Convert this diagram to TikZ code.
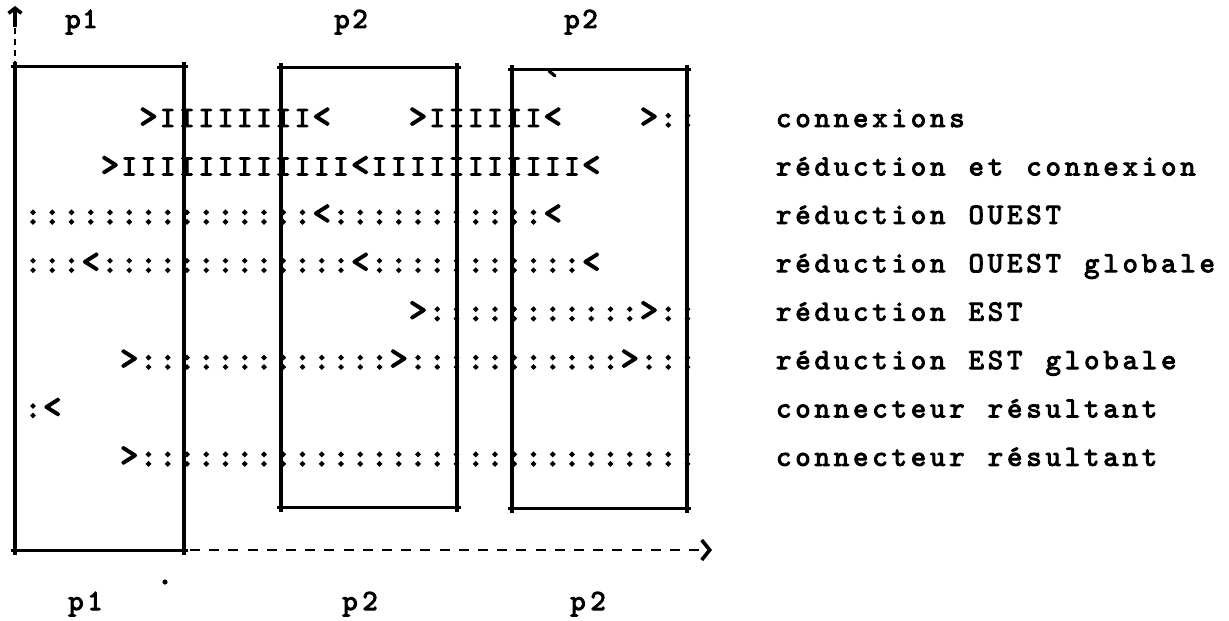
\documentclass[tikz,border=0pt]{standalone}
\usepackage{fontspec}
\newfontfamily\twfont{lmmono10-regular}[Extension=.otf, FakeBold=3.4]
\newfontfamily\twheavy{lmmono10-regular}[Extension=.otf, FakeBold=4.5]
\usetikzlibrary{arrows.meta}
\tikzset{
  glyph/.style={font=\twfont\fontsize{14.6}{14}\selectfont, anchor=base, inner sep=0pt, outer sep=0pt},
  chevron/.style={font=\twheavy\fontsize{17}{17}\selectfont},
  colon/.style={font=\twheavy\fontsize{15.5}{15}\selectfont},
  twextra/.style={},
  vline/.style={line width=2.1pt},
  hline/.style={line width=1.5pt},
  axisline/.style={line width=1.4pt, dash pattern=on 5pt off 4.6pt},
}
\ExplSyntaxOn
\fp_new:N \l_tw_col_fp
\int_new:N \l_tw_idx_int
\NewDocumentCommand \typerow { m m m m }
  {
    \fp_set:Nn \l_tw_col_fp { #2 }
    \int_zero:N \l_tw_idx_int
    \tl_map_inline:nn { #4 }
      {
        \int_incr:N \l_tw_idx_int
        \str_if_eq:nnF { ##1 } { . }
          {
            \str_case:nnF { ##1 }
              {
                { < } { \tikzset { twextra/.style = { chevron } } }
                { > } { \tikzset { twextra/.style = { chevron } } }
                { : } { \tikzset { twextra/.style = { colon } } }
              }
              { \tikzset { twextra/.style = { } } }
            \node [ glyph , twextra , name = #1 - \int_use:N \l_tw_idx_int ]
              at ( \fp_eval:n { 33 + 19.25 * \l_tw_col_fp } , #3 ) { ##1 } ;
          }
        \fp_add:Nn \l_tw_col_fp { 1 }
      }
  }
\ExplSyntaxOff
\begin{document}
\begin{tikzpicture}[x=0.5pt, y=-0.5pt]
\fill[white] (0,0) rectangle (1229,620);
\path[use as bounding box] (0,0) rectangle (1229,620);

% typed rows (columns 0..34)
\typerow{ra}{0}{127}{......>IIIIIIII<....>IIIIII<....>::}
\typerow{rb}{0}{175.4}{....>IIIIIIIIIIII<IIIIIIIIIII<}
\typerow{rc}{0}{223.8}{:::::::::::::::<:::::::::::<}
\typerow{rd}{0}{272.2}{:::<:::::::::::::<:::::::::::<}
\typerow{re}{0}{320.6}{....................>:::::::::::>::}
\typerow{rf}{0}{369}{.....>:::::::::::::>:::::::::::>:::}
\typerow{rg}{0}{417.4}{:<}
\typerow{rh}{0}{465.8}{.....>:::::::::::::::::::::::::::::}

% labels on the right
\typerow{la}{39}{127}{connexions}
\typerow{lb}{39}{175.4}{réduction.et.connexion}
\typerow{lc}{39}{223.8}{réduction.OUEST}
\typerow{ld}{39}{272.2}{réduction.OUEST.globale}
\typerow{le}{39}{320.6}{réduction.EST}
\typerow{lf}{39}{369}{réduction.EST.globale}
\typerow{lg}{39}{417.4}{connecteur.résultant}
\typerow{lh}{39}{465.8}{connecteur.résultant}

% top and bottom labels
\node[glyph] (tp1p) at (73,28) {p};  \node[glyph] (tp1n) at (90,28) {1};
\node[glyph] (tp2p) at (342,28) {p}; \node[glyph] (tp2n) at (360,28) {2};
\node[glyph] (tp3p) at (572,28) {p}; \node[glyph] (tp3n) at (590,28) {2};
\node[glyph] (bp1p) at (76,610) {p};  \node[glyph] (bp1n) at (95,610) {1};
\node[glyph] (bp2p) at (350,610) {p}; \node[glyph] (bp2n) at (370,610) {2};
\node[glyph] (bp3p) at (578,610) {p}; \node[glyph] (bp3n) at (598,610) {2};

% box corners
\coordinate (aTL) at (15,67);  \coordinate (aTR) at (184,67);
\coordinate (aBL) at (15,550); \coordinate (aBR) at (184,550);
\coordinate (bTL) at (281,68); \coordinate (bTR) at (457,68);
\coordinate (bBL) at (281,507);\coordinate (bBR) at (457,507);
\coordinate (cTL) at (512,70); \coordinate (cTR) at (687,70);
\coordinate (cBL) at (512,508);\coordinate (cBR) at (687,508);

% boxes
\foreach \b in {a,b,c}{
  \draw[vline] ([yshift=2.5pt]\b TL) -- ([yshift=-2.5pt]\b BL);
  \draw[vline] ([yshift=2.5pt]\b TR) -- ([yshift=-2.5pt]\b BR);
  \draw[hline] ([xshift=-2pt]\b TL) -- ([xshift=2pt]\b TR);
  \draw[hline] ([xshift=-2pt]\b BL) -- ([xshift=2pt]\b BR);
}
\draw[line width=1.6pt, line cap=round] (549,71) -- (555,76);

% axes
\coordinate (yend) at (15,6);
\coordinate (ystem) at (15,27);
\coordinate (xend) at (712,550);
\draw[line width=1.2pt, dash pattern=on 3pt off 2.5pt] (aTL) -- (ystem);
\draw[line width=1.8pt, -{Straight Barb[length=2.5pt,width=6.5pt]}] (ystem) -- (yend);
\draw[axisline, -{Straight Barb[length=4pt,width=10pt,line width=1.8pt]}] ([xshift=3pt]aBR) -- (xend);

% stray dot
\fill (165,582) circle (1.3pt);
\end{tikzpicture}
\end{document}
